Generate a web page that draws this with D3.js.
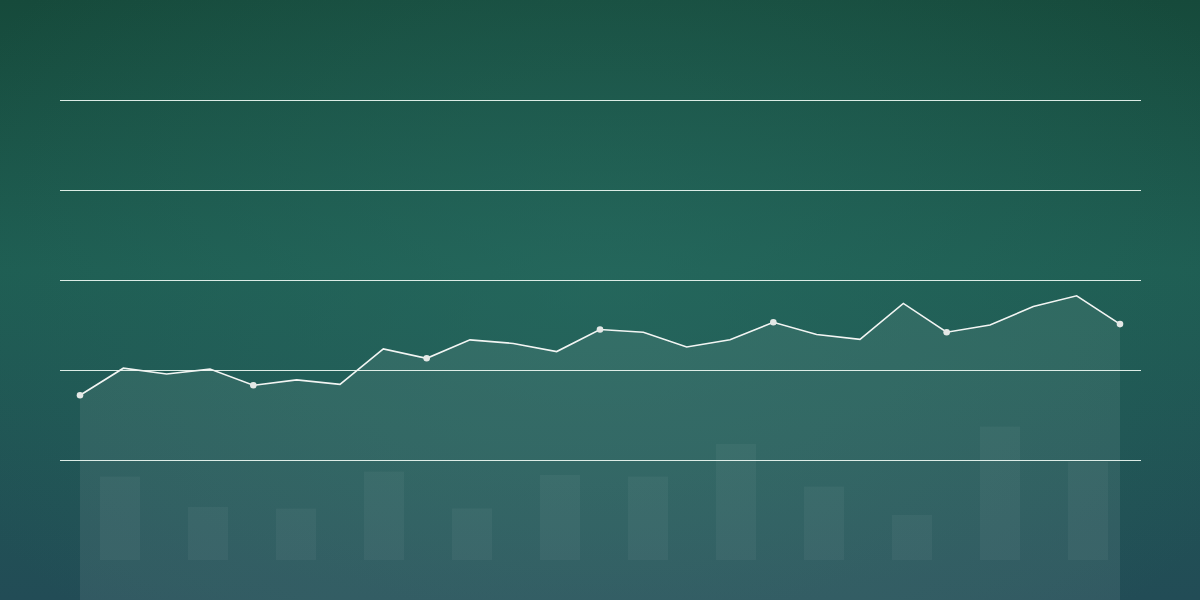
<!DOCTYPE html>
<html>
<head>
<meta charset="utf-8">
<script src="https://cdn.jsdelivr.net/npm/d3@7"></script>
<style>
  html, body { margin: 0; padding: 0; background: #1c4f47; }
  svg { display: block; }
</style>
</head>
<body>
<svg id="chart" width="1200" height="600"></svg>
<script>
// ---- data ----
const lineValues = [34.4, 40.4, 39.1, 40.2, 36.6, 37.8, 36.8, 44.7, 42.6, 46.7, 45.9, 44.1, 49.0,
                    48.4, 45.1, 46.7, 50.6, 47.9, 46.8, 54.8, 48.4, 50.0, 54.1, 56.5, 50.2];
const barValues = [41.7, 26.5, 25.7, 44.2, 25.8, 42.5, 41.7, 58.0, 36.7, 22.5, 66.7, 49.2];
const gridTicks = [20, 40, 60, 80, 100];
const markerEvery = 4;

// ---- layout ----
const W = 1200, H = 600;
const svg = d3.select("#chart");
const defs = svg.append("defs");

const lin = defs.append("linearGradient").attr("id", "bgLin")
  .attr("x1", 0).attr("y1", 0).attr("x2", 0).attr("y2", 1);
lin.append("stop").attr("offset", "0%").attr("stop-color", "#164a3b");
lin.append("stop").attr("offset", "45%").attr("stop-color", "#1e5d52");
lin.append("stop").attr("offset", "100%").attr("stop-color", "#224c56");

const rad = defs.append("radialGradient").attr("id", "bgRad")
  .attr("cx", "50%").attr("cy", "48%").attr("r", "60%")
  .attr("gradientTransform", "translate(0.5,0.48) scale(1,1.3) translate(-0.5,-0.48)");
rad.append("stop").attr("offset", "0%").attr("stop-color", "#2a7065").attr("stop-opacity", 0.5);
rad.append("stop").attr("offset", "100%").attr("stop-color", "#2a7065").attr("stop-opacity", 0);

svg.append("rect").attr("width", W).attr("height", H).attr("fill", "url(#bgLin)");
svg.append("rect").attr("width", W).attr("height", H).attr("fill", "url(#bgRad)");

// scales
const x = d3.scaleLinear().domain([0, lineValues.length - 1]).range([80, 1120]);
const y = d3.scaleLinear().domain([0, 100]).range([550, 100]);
const xb = d3.scaleBand().domain(d3.range(barValues.length)).range([76, 1132])
  .paddingInner(48 / 88).paddingOuter(24 / 88);
const yb = d3.scaleLinear().domain([0, 100]).range([560, 360]);

// gridlines
svg.append("g").selectAll("line").data(gridTicks).join("line")
  .attr("x1", 60).attr("x2", 1141)
  .attr("y1", d => Math.round(y(d)) + 0.5).attr("y2", d => Math.round(y(d)) + 0.5)
  .attr("stroke", "#e6f4ee").attr("stroke-width", 1).attr("opacity", 0.95);

// area
const area = d3.area().x((d, i) => x(i)).y0(H).y1(d => y(d));
svg.append("path").datum(lineValues).attr("d", area)
  .attr("fill", "#ffffff").attr("fill-opacity", 0.075);

// bars
svg.append("g").selectAll("rect").data(barValues).join("rect")
  .attr("x", (d, i) => xb(i)).attr("width", xb.bandwidth())
  .attr("y", d => yb(d)).attr("height", d => yb(0) - yb(d))
  .attr("fill", "#ffffff").attr("fill-opacity", 0.045);

// line
const line = d3.line().x((d, i) => x(i)).y(d => y(d));
svg.append("path").datum(lineValues).attr("d", line)
  .attr("fill", "none").attr("stroke", "#f2f5f3").attr("stroke-width", 1.6)
  .attr("stroke-linejoin", "miter");

// markers
svg.append("g").selectAll("circle")
  .data(lineValues.map((v, i) => ({ v, i })).filter(d => d.i % markerEvery === 0))
  .join("circle")
  .attr("cx", d => x(d.i)).attr("cy", d => y(d.v)).attr("r", 3.3)
  .attr("fill", "#e4e8e6");
</script>
</body>
</html>
